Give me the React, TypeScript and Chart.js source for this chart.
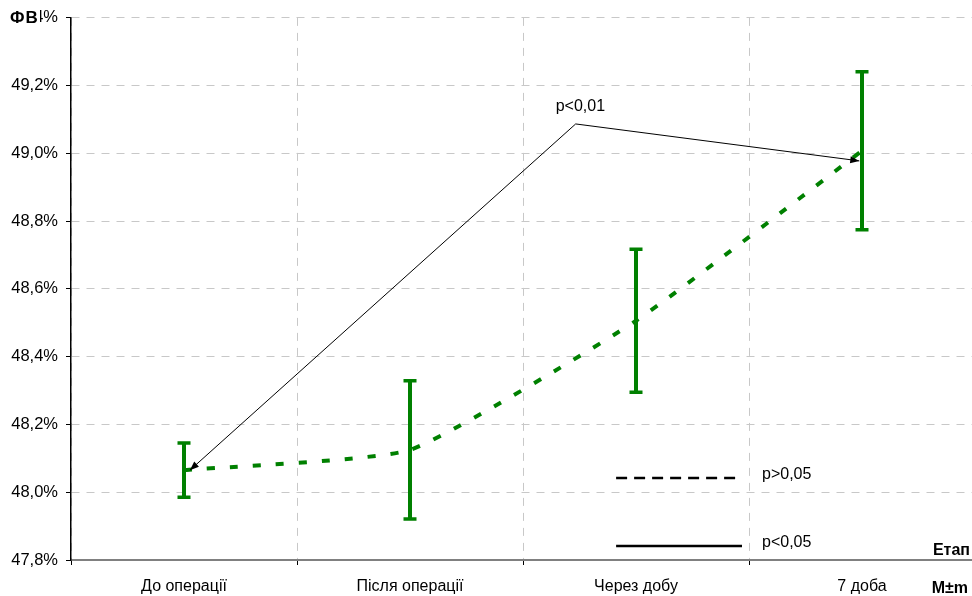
import React, { useEffect, useRef } from "react";
import { Chart, registerables } from "chart.js";

Chart.register(...registerables);

// Stages of observation and ejection fraction (M ± m)
const stages = ["До операції", "Після операції", "Через добу", "7 доба"];
const meanEF = [48.065, 48.125, 48.506, 49.008];
const errEF = [0.08, 0.204, 0.211, 0.233];

// Y axis range
const Y_MIN = 47.8;
const Y_MAX = 49.4;
const Y_STEP = 0.2;

// Significance arrow: positions on the stage axis (fractional index) and values
const arrowX = [0.026, 1.733, 2.988];
const arrowY = [48.065, 49.087, 48.978];
const arrowLabel = "p<0,01";

// Key for line styles
const keyLabels = ["p>0,05", "p<0,05"];
const keyDashed = [true, false];
const keyY = [48.041, 47.841];
const keyX = [1.912, 2.469];

const axisTitleY = "ФВ";
const axisTitleX = "Етап";
const cornerNote = "M±m";

const GREEN = "#008000";
const GRID = "#c8c8c8";
const FONT = "'Liberation Sans', Arial, Helvetica, sans-serif";

const fmtPct = (v: number) => v.toFixed(1).replace(".", ",") + "%";

const overlay = {
  id: "overlay",
  afterDatasetsDraw(chart: any) {
    const { ctx, scales } = chart;
    const x = scales.x;
    const y = scales.y;
    ctx.save();

    // error bars
    ctx.strokeStyle = GREEN;
    ctx.lineCap = "butt";
    meanEF.forEach((m, i) => {
      const px = x.getPixelForValue(i);
      const top = y.getPixelForValue(m + errEF[i]);
      const bot = y.getPixelForValue(m - errEF[i]);
      ctx.lineWidth = 4;
      ctx.beginPath();
      ctx.moveTo(px, top);
      ctx.lineTo(px, bot);
      ctx.stroke();
      ctx.lineWidth = 3.5;
      ctx.beginPath();
      ctx.moveTo(px - 6.5, top);
      ctx.lineTo(px + 6.5, top);
      ctx.moveTo(px - 6.5, bot);
      ctx.lineTo(px + 6.5, bot);
      ctx.stroke();
    });

    // significance arrow
    const pts = arrowX.map((v, i) => ({ x: x.getPixelForValue(v), y: y.getPixelForValue(arrowY[i]) }));
    ctx.strokeStyle = "#000";
    ctx.fillStyle = "#000";
    ctx.lineWidth = 1;
    ctx.beginPath();
    ctx.moveTo(pts[0].x, pts[0].y);
    ctx.lineTo(pts[1].x, pts[1].y);
    ctx.lineTo(pts[2].x, pts[2].y);
    ctx.stroke();
    const head = (tip: { x: number; y: number }, from: { x: number; y: number }) => {
      const a = Math.atan2(tip.y - from.y, tip.x - from.x);
      const len = 9;
      const hw = 3.5;
      const bx = tip.x - len * Math.cos(a);
      const by = tip.y - len * Math.sin(a);
      ctx.beginPath();
      ctx.moveTo(tip.x, tip.y);
      ctx.lineTo(bx + hw * Math.sin(a), by - hw * Math.cos(a));
      ctx.lineTo(bx - hw * Math.sin(a), by + hw * Math.cos(a));
      ctx.closePath();
      ctx.fill();
    };
    head(pts[0], pts[1]);
    head(pts[2], pts[1]);
    ctx.font = `16px ${FONT}`;
    ctx.textAlign = "left";
    ctx.textBaseline = "alphabetic";
    ctx.fillText(arrowLabel, pts[1].x - 20, pts[1].y - 12.5);

    // line style key
    keyLabels.forEach((lab, i) => {
      const x0 = x.getPixelForValue(keyX[0]);
      const x1 = x.getPixelForValue(keyX[1]);
      const py = Math.round(y.getPixelForValue(keyY[i]));
      ctx.lineWidth = 2.5;
      ctx.setLineDash(keyDashed[i] ? [11, 7] : []);
      ctx.beginPath();
      ctx.moveTo(x0, py);
      ctx.lineTo(x1, py);
      ctx.stroke();
      ctx.setLineDash([]);
      ctx.fillText(lab, x1 + 20, py + 1);
    });
    ctx.restore();
  },
  afterDraw(chart: any) {
    const { ctx, chartArea } = chart;
    ctx.save();
    // vertical axis title over the top tick label
    ctx.fillStyle = "#fff";
    ctx.fillRect(0, chartArea.top - 10, 40, 20);
    ctx.fillStyle = "#000";
    ctx.font = `bold 17px ${FONT}`;
    ctx.textBaseline = "middle";
    ctx.textAlign = "left";
    (ctx as any).letterSpacing = "1px";
    ctx.fillText(axisTitleY, 10, chartArea.top + 0.5);
    (ctx as any).letterSpacing = "0px";
    // horizontal axis title and corner note
    ctx.font = `bold 16px ${FONT}`;
    ctx.textBaseline = "alphabetic";
    ctx.textAlign = "right";
    ctx.fillText(axisTitleX, 970, chartArea.bottom - 5);
    ctx.fillText(cornerNote, 968, chartArea.bottom + 33);
    ctx.restore();
  },
};

export default function App() {
  const ref = useRef<HTMLCanvasElement>(null);

  useEffect(() => {
    document.body.style.margin = "0";
    Chart.defaults.font.family = FONT;
    Chart.defaults.font.size = 16;
    const canvas = ref.current!;
    const chart = new Chart(canvas, {
      type: "line",
      data: {
        labels: stages,
        datasets: [
          {
            data: meanEF,
            borderColor: GREEN,
            borderWidth: 4,
            borderDash: [8, 15],
            borderCapStyle: "butt",
            pointRadius: 0,
            tension: 0.15,
            fill: false,
          },
        ],
      },
      options: {
        responsive: false,
        animation: false,
        devicePixelRatio: 1,
        layout: { padding: { top: 16, left: 0, right: 0, bottom: 0 } },
        plugins: { legend: { display: false }, tooltip: { enabled: false } },
        scales: {
          x: {
            type: "category",
            offset: true,
            grid: {
              offset: true,
              color: GRID,
              lineWidth: 1,
              drawTicks: true,
              tickLength: 5,
              tickColor: "#000",
              tickWidth: 1,
              tickBorderDash: [],
            } as any,
            border: { display: true, color: "#808080", width: 2, dash: [8, 7] },
            ticks: { color: "#000", font: { size: 16 }, padding: 12, maxRotation: 0, autoSkip: false },
            afterFit: (s: any) => {
              s.height = 36;
            },
          },
          y: {
            min: Y_MIN,
            max: Y_MAX,
            grid: {
              color: GRID,
              lineWidth: 1,
              drawTicks: true,
              tickLength: 5,
              tickColor: "#000",
              tickWidth: 1,
              tickBorderDash: [],
            } as any,
            border: { display: true, color: "#000", width: 1.5, dash: [8, 7] },
            ticks: {
              stepSize: Y_STEP,
              color: "#000",
              font: { size: 16.5 },
              padding: 8,
              callback: (v: any) => fmtPct(Number(v)),
            },
            afterFit: (s: any) => {
              s.width = 71;
            },
          },
        },
      },
      plugins: [overlay],
    });
    return () => chart.destroy();
  }, []);

  return (
    <div style={{ width: 972, height: 596, overflow: "hidden" }}>
      <canvas ref={ref} width={975} height={596} style={{ display: "block", width: 975, height: 596 }} />
    </div>
  );
}
